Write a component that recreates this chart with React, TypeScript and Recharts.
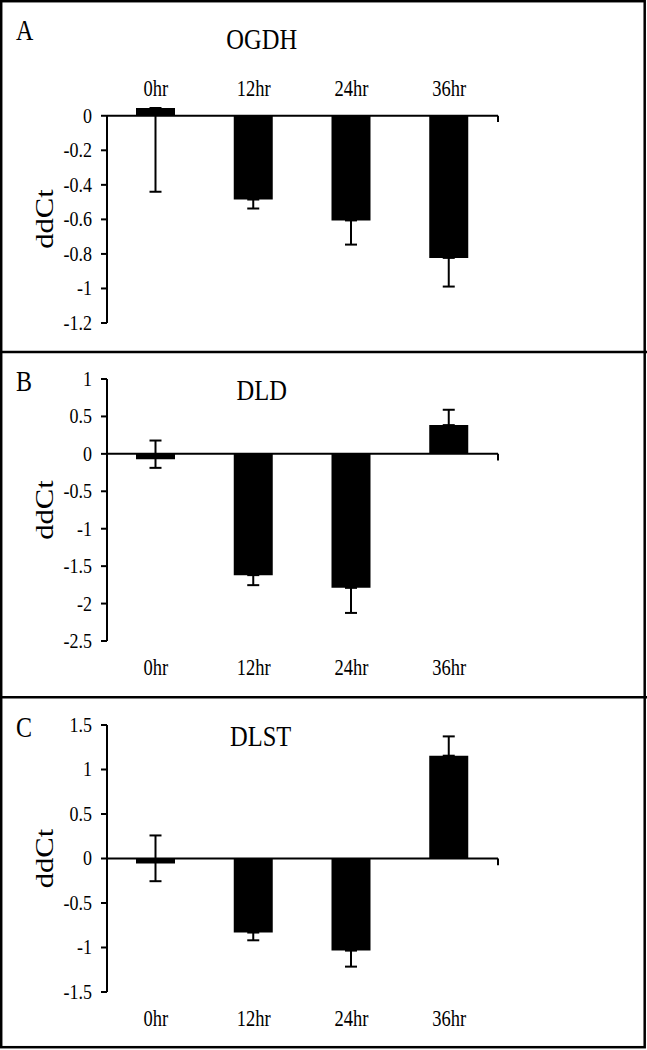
import React from 'react';
import { BarChart, Bar, XAxis, YAxis, ErrorBar, ReferenceLine } from 'recharts';

const categories = ['0hr', '12hr', '24hr', '36hr'];

const ogdhValues = [0.045, -0.485, -0.606, -0.823];
const ogdhErrLow = [0.485, 0.052, 0.14, 0.166];
const ogdhErrHigh = [0, 0, 0, 0];

const dldValues = [-0.071, -1.62, -1.79, 0.384];
const dldErrLow = [0.116, 0.134, 0.335, 0];
const dldErrHigh = [0.249, 0, 0, 0.205];

const dlstValues = [-0.056, -0.832, -1.035, 1.155];
const dlstErrLow = [0.199, 0.087, 0.18, 0];
const dlstErrHigh = [0.315, 0, 0, 0.217];

const ogdhTicks = [0, -0.2, -0.4, -0.6, -0.8, -1, -1.2];
const dldTicks = [1, 0.5, 0, -0.5, -1, -1.5, -2, -2.5];
const dlstTicks = [1.5, 1, 0.5, 0, -0.5, -1, -1.5];
const boundaryTicks = [1, 2, 3, 4];

const FONT = '"Liberation Serif", "Times New Roman", serif';
const STRETCH = 1.15;

function build(values: number[], low: number[], high: number[]) {
  return categories.map((c, i) => ({ cat: c, value: values[i], err: [low[i], high[i]] }));
}

function stretchY(y: number, k: number) {
  return `translate(0 ${y}) scale(1 ${k}) translate(0 ${-y})`;
}

const YTick = (props: any) => {
  const { x, y, payload } = props;
  const by = y + 7;
  return (
    <text x={x} y={by} textAnchor="end" fontSize={18} fontFamily={FONT} fill="#000" transform={stretchY(by, STRETCH)}>
      {String(payload.value)}
    </text>
  );
};

const XTick = (props: any) => {
  const { x, y, payload } = props;
  return (
    <text x={x} y={y} textAnchor="middle" fontSize={18.5} fontFamily={FONT} fill="#000" transform={stretchY(y, 1.2)}>
      {payload.value}
    </text>
  );
};

type PanelProps = {
  top: number;
  height: number;
  data: any[];
  domain: [number, number];
  ticks: number[];
  xTop: boolean;
  tickLen: number;
  margin: { top: number; right: number; bottom: number; left: number };
  yAxisLineBottom?: number;
};

function Panel({ top, height, data, domain, ticks, xTop, tickLen, margin, yAxisLineBottom }: PanelProps) {
  return (
    <div style={{ position: 'absolute', left: 0, top, width: 647, height }}>
      <BarChart width={647} height={height} data={data} margin={margin} barSize={39}>
        <XAxis
          dataKey="cat"
          orientation={xTop ? 'top' : 'bottom'}
          height={xTop ? 30 : 40}
          axisLine={false}
          tickLine={false}
          tickSize={0}
          tickMargin={xTop ? 12.3 : 34.3}
          tick={<XTick />}
          interval={0}
        />
        <XAxis xAxisId="num" type="number" domain={[0, 4]} hide />
        <YAxis
          type="number"
          domain={domain}
          ticks={ticks}
          interval={0}
          width={107}
          axisLine={yAxisLineBottom === undefined ? { stroke: '#000', strokeWidth: 2 } : false}
          tickLine={{ stroke: '#000', strokeWidth: 2 }}
          tickSize={6}
          tickMargin={9}
          tick={<YTick />}
          allowDataOverflow
        />
        <Bar dataKey="value" fill="#000" isAnimationActive={false}>
          <ErrorBar dataKey="err" width={6} strokeWidth={2} stroke="#000" direction="y" />
        </Bar>
        <ReferenceLine y={0} stroke="#000" strokeWidth={2} />
        {yAxisLineBottom !== undefined && (
          <ReferenceLine
            xAxisId="num"
            segment={[{ x: 0, y: yAxisLineBottom }, { x: 0, y: 0 }]}
            stroke="#000"
            strokeWidth={2}
          />
        )}
        {boundaryTicks.map((b) => (
          <ReferenceLine
            key={b}
            xAxisId="num"
            segment={[{ x: b, y: 0 }, { x: b, y: -tickLen }]}
            stroke="#000"
            strokeWidth={2}
          />
        ))}
      </BarChart>
    </div>
  );
}

function YLabel({ x, cy }: { x: number; cy: number }) {
  return (
    <text
      x={x}
      y={cy}
      fontSize={26}
      textAnchor="middle"
      fontFamily={FONT}
      fill="#000"
      transform={`translate(${x} ${cy}) rotate(-90) scale(1.18 1) translate(${-x} ${-cy})`}
    >
      ddCt
    </text>
  );
}

function Title({ x, y, size, anchor, text }: { x: number; y: number; size: number; anchor: string; text: string }) {
  return (
    <text x={x} y={y} fontSize={size} textAnchor={anchor as any} fontFamily={FONT} fill="#000" transform={stretchY(y, 1.2)}>
      {text}
    </text>
  );
}

export default function App() {
  const ogdhData = build(ogdhValues, ogdhErrLow, ogdhErrHigh);
  const dldData = build(dldValues, dldErrLow, dldErrHigh);
  const dlstData = build(dlstValues, dlstErrLow, dlstErrHigh);
  return (
    <div style={{ position: 'absolute', left: 0, top: 0, width: 647, height: 1050, background: '#fff' }}>
      <Panel
        top={0}
        height={352}
        data={ogdhData}
        domain={[-1.2, 0.045]}
        ticks={ogdhTicks}
        xTop
        tickLen={0.036}
        margin={{ top: 78, right: 149, bottom: 29, left: 0 }}
        yAxisLineBottom={-1.2}
      />
      <Panel
        top={352}
        height={345}
        data={dldData}
        domain={[-2.5, 1]}
        ticks={dldTicks}
        xTop={false}
        tickLen={0.09}
        margin={{ top: 27, right: 149, bottom: 16, left: 0 }}
      />
      <Panel
        top={697}
        height={351}
        data={dlstData}
        domain={[-1.5, 1.5]}
        ticks={dlstTicks}
        xTop={false}
        tickLen={0.075}
        margin={{ top: 28, right: 149, bottom: 16, left: 0 }}
      />
      <svg width={647} height={1050} style={{ position: 'absolute', left: 0, top: 0, pointerEvents: 'none' }}>
        <rect x={1.2} y={1.2} width={643.5} height={1046} fill="none" stroke="#000" strokeWidth={2.5} />
        <line x1={0} x2={647} y1={352} y2={352} stroke="#000" strokeWidth={2.5} />
        <line x1={0} x2={647} y1={697.3} y2={697.3} stroke="#000" strokeWidth={2.5} />

        <Title x={16} y={40} size={24} anchor="start" text="A" />
        <Title x={261.7} y={49} size={24.5} anchor="middle" text="OGDH" />
        <YLabel x={53} cy={219} />

        <Title x={16} y={390.7} size={24} anchor="start" text="B" />
        <Title x={261.7} y={400} size={24.5} anchor="middle" text="DLD" />
        <YLabel x={53} cy={510} />

        <Title x={16} y={736.7} size={24} anchor="start" text="C" />
        <Title x={260.7} y={745.7} size={24.5} anchor="middle" text="DLST" />
        <YLabel x={53} cy={858.5} />
      </svg>
    </div>
  );
}
